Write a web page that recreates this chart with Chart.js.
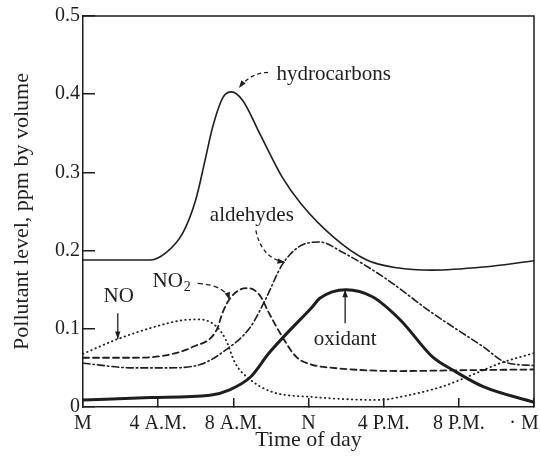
<!DOCTYPE html>
<html lang="en">
<head>
  <meta charset="UTF-8">
  <title>Pollutant level by time of day</title>
  <script src="https://cdn.jsdelivr.net/npm/chart.js"></script>
  <style>
    body { margin: 0; background: #fff; }
    #wrap { width: 540px; height: 464px; }
  </style>
</head>
<body>
  <div id="wrap"><canvas id="smogChart"></canvas></div>
  <script>
    // x values are hours after midnight, y values ppm by volume
    const hcHours = [0, 2, 3.6, 4.4, 5.3, 6.0, 6.5, 6.9, 7.45, 7.9, 8.5, 9.4, 10.6, 11.6, 13.3, 15.1, 16.7, 18.6, 21.3, 24];
    const hcVals  = [0.188, 0.188, 0.188, 0.197, 0.222, 0.265, 0.316, 0.358, 0.396, 0.403, 0.392, 0.350, 0.294, 0.260, 0.218, 0.188, 0.178, 0.175, 0.179, 0.187];

    const aldHours = [0, 2.7, 4.4, 6.2, 7.6, 8.9, 9.7, 10.6, 11.5, 12.6, 13.8, 16, 18.6, 21.3, 22.5, 24];
    const aldVals  = [0.056, 0.050, 0.050, 0.054, 0.073, 0.102, 0.137, 0.182, 0.205, 0.211, 0.198, 0.166, 0.120, 0.077, 0.057, 0.053];

    const no2Hours = [0, 2.7, 4.4, 5.85, 7.1, 7.45, 7.8, 8.35, 8.8, 9.4, 9.9, 10.6, 11.35, 12.2, 13.3, 16.9, 20, 24];
    const no2Vals  = [0.063, 0.063, 0.066, 0.077, 0.098, 0.122, 0.138, 0.150, 0.152, 0.143, 0.120, 0.090, 0.064, 0.054, 0.050, 0.046, 0.047, 0.048];

    const noHours = [0, 1.75, 3.6, 5.3, 6.2, 7.1, 7.6, 8.1, 8.9, 10.1, 12.1, 15.8, 16.9, 19.1, 20.4, 22.2, 24];
    const noVals  = [0.068, 0.086, 0.101, 0.111, 0.112, 0.103, 0.086, 0.056, 0.035, 0.019, 0.013, 0.009, 0.013, 0.026, 0.038, 0.056, 0.069];

    const oxHours = [0, 3.6, 6.75, 7.8, 8.9, 9.9, 11, 12.2, 12.6, 14, 15.4, 16.9, 18.6, 19.7, 21.3, 24];
    const oxVals  = [0.009, 0.012, 0.015, 0.022, 0.038, 0.069, 0.098, 0.128, 0.139, 0.150, 0.141, 0.111, 0.064, 0.047, 0.026, 0.006];

    const xTickLabels = ['M', '4 A.M.', '8 A.M.', 'N', '4 P.M.', '8 P.M.', '· M'];

    // curve labels, placed in data units
    const noteText  = ['hydrocarbons', 'aldehydes', 'NO', 'NO', 'oxidant'];
    const noteSub   = ['', '', '2', '', ''];
    const noteX     = [10.3, 6.75, 3.7, 1.9, 13.95];
    const noteY     = [0.425, 0.245, 0.160, 0.141, 0.086];
    const noteAlign = ['left', 'left', 'left', 'center', 'center'];

    const leadFrom = [[9.85, 0.428], [9.2, 0.226], [6.1, 0.158], [1.85, 0.120], [13.95, 0.107]];
    const leadVia  = [[8.9, 0.427], [9.5, 0.190], [7.55, 0.156], null, null];
    const leadTo   = [[8.3, 0.408], [10.75, 0.185], [7.8, 0.137], [1.85, 0.087], [13.95, 0.150]];
    const leadDash = [[4, 3], [4, 3], [5, 3], [], []];

    const ink = '#1e1e1e';
    const serif = "'Liberation Serif', 'Times New Roman', serif";

    function toPoints(hours, vals) {
      return hours.map(function(h, i) { return {x: h, y: vals[i]}; });
    }

    function line(hours, vals, width, dash) {
      return {
        data: toPoints(hours, vals),
        borderColor: ink,
        borderWidth: width,
        borderDash: dash,
        borderCapStyle: dash.length ? 'round' : 'butt',
        pointRadius: 0,
        cubicInterpolationMode: 'monotone',
        fill: false
      };
    }

    // top and right edges of the box
    const frame = {
      id: 'frame',
      beforeDatasetsDraw(chart) {
        const a = chart.chartArea, ctx = chart.ctx;
        ctx.save();
        ctx.strokeStyle = ink;
        ctx.lineWidth = 1.5;
        ctx.beginPath();
        ctx.moveTo(a.left, a.top);
        ctx.lineTo(a.right, a.top);
        ctx.lineTo(a.right, a.bottom);
        ctx.stroke();
        ctx.restore();
      }
    };

    const notes = {
      id: 'notes',
      afterDatasetsDraw(chart) {
        const xs = chart.scales.x, ys = chart.scales.y, ctx = chart.ctx;
        const px = function(h) { return xs.getPixelForValue(h); };
        const py = function(v) { return ys.getPixelForValue(v); };
        ctx.save();
        ctx.fillStyle = ink;
        ctx.strokeStyle = ink;
        ctx.textBaseline = 'middle';
        for (let i = 0; i < noteText.length; i++) {
          ctx.font = '21px ' + serif;
          ctx.textAlign = noteAlign[i];
          const x = px(noteX[i]), y = py(noteY[i]);
          ctx.fillText(noteText[i], x, y);
          if (noteSub[i]) {
            const w = ctx.measureText(noteText[i]).width;
            ctx.font = '14px ' + serif;
            ctx.textAlign = 'left';
            ctx.fillText(noteSub[i], x + w + 1, y + 5);
          }
        }
        for (let i = 0; i < leadFrom.length; i++) {
          const x0 = px(leadFrom[i][0]), y0 = py(leadFrom[i][1]);
          const x1 = px(leadTo[i][0]), y1 = py(leadTo[i][1]);
          let cx = x0, cy = y0;
          ctx.lineWidth = 1.3;
          ctx.setLineDash(leadDash[i]);
          ctx.beginPath();
          ctx.moveTo(x0, y0);
          if (leadVia[i]) {
            cx = px(leadVia[i][0]); cy = py(leadVia[i][1]);
            ctx.quadraticCurveTo(cx, cy, x1, y1);
          } else {
            ctx.lineTo(x1, y1);
          }
          ctx.stroke();
          ctx.setLineDash([]);
          const ang = Math.atan2(y1 - cy, x1 - cx);
          ctx.beginPath();
          ctx.moveTo(x1, y1);
          ctx.lineTo(x1 - 8 * Math.cos(ang - 0.35), y1 - 8 * Math.sin(ang - 0.35));
          ctx.lineTo(x1 - 8 * Math.cos(ang + 0.35), y1 - 8 * Math.sin(ang + 0.35));
          ctx.closePath();
          ctx.fill();
        }
        ctx.restore();
      }
    };

    var ctx = document.getElementById('smogChart').getContext('2d');
    var smogChart = new Chart(ctx, {
      type: 'line',
      data: {
        datasets: [
          line(hcHours, hcVals, 1.6, []),
          line(aldHours, aldVals, 1.6, [7, 3, 1.5, 3]),
          line(no2Hours, no2Vals, 1.8, [6, 4]),
          line(noHours, noVals, 1.8, [0.5, 4]),
          line(oxHours, oxVals, 3, [])
        ]
      },
      options: {
        responsive: true,
        maintainAspectRatio: false,
        animation: false,
        events: [],
        layout: { padding: { top: 16, right: 6, left: 0, bottom: 0 } },
        plugins: { legend: { display: false }, tooltip: { enabled: false } },
        scales: {
          x: {
            type: 'linear',
            min: 0,
            max: 24,
            afterFit: function(scale) {
              scale.height = 57;
              scale.paddingLeft = 0;
              scale.paddingRight = 0;
            },
            afterBuildTicks: function(scale) {
              scale.ticks = xTickLabels.map(function(t, i) { return {value: i * 4}; });
            },
            grid: { drawOnChartArea: false, tickLength: -9, color: ink, lineWidth: 1.5 },
            border: { color: ink, width: 1.5 },
            ticks: {
              color: ink,
              padding: 14,
              maxRotation: 0,
              autoSkip: false,
              font: { family: serif, size: 20 },
              callback: function(value, index) {
                // last label sits at the right edge, pad it so it stays inside
                return index === xTickLabels.length - 1 ? xTickLabels[index] + '\u00a0\u00a0\u00a0\u00a0' : xTickLabels[index];
              }
            },
            title: {
              display: true,
              text: 'Time of day',
              color: ink,
              font: { family: serif, size: 22 },
              padding: { top: 0, bottom: 11 }
            }
          },
          y: {
            min: 0,
            max: 0.5,
            afterFit: function(scale) {
              scale.width = 83;
              scale.paddingTop = 0;
              scale.paddingBottom = 0;
            },
            grid: { drawOnChartArea: false, tickLength: -12, color: ink, lineWidth: 1.5 },
            border: { color: ink, width: 1.5 },
            ticks: {
              stepSize: 0.1,
              color: ink,
              padding: 15,
              font: { family: serif, size: 20 }
            },
            title: {
              display: true,
              text: 'Pollutant level, ppm by volume',
              color: ink,
              font: { family: serif, size: 22 },
              padding: { top: 9, bottom: 0 }
            }
          }
        }
      },
      plugins: [frame, notes]
    });
  </script>
</body>
</html>
